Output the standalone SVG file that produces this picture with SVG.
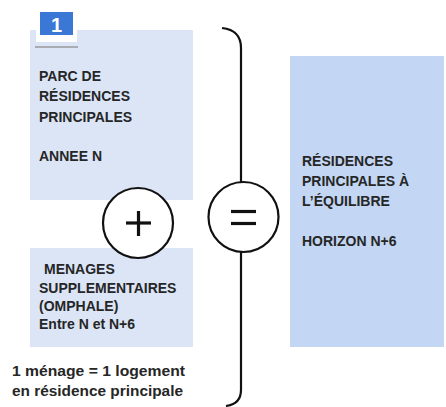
<svg xmlns="http://www.w3.org/2000/svg" width="446" height="407" viewBox="0 0 446 407">
<style>
.t{font-family:"Liberation Sans",Arial,sans-serif;font-weight:bold;font-size:14px;fill:#262626}
.lb{fill:#dbe5f6}
.rb{fill:#c3d6f3}
.ln{fill:none;stroke:#111;stroke-width:2.2}
.op{fill:#fff;stroke:#111;stroke-width:2.2}
.sym{stroke:#111;stroke-width:3.2;stroke-linecap:butt}
</style>
<rect width="446" height="407" fill="#fff"/>
<g id="box-parc">
<rect class="lb" x="30" y="30" width="163" height="170"/>
<rect x="36" y="9" width="41" height="33" fill="#fff"/>
<rect x="40" y="12" width="33" height="23" fill="#3b78d6"/>
<text x="56.5" y="32" text-anchor="middle" style="font-family:'Liberation Sans',Arial,sans-serif;font-weight:bold;font-size:20px;fill:#fff">1</text>
<line x1="35" y1="47" x2="78" y2="47" stroke="#999" stroke-width="1.5"/>
<text class="t" x="39" y="81">PARC DE</text>
<text class="t" x="39" y="101">RÉSIDENCES</text>
<text class="t" x="39" y="122">PRINCIPALES</text>
<text class="t" x="39" y="161">ANNEE N</text>
</g>
<g id="box-menages">
<rect class="lb" x="30" y="248" width="163" height="99"/>
<text class="t" x="44" y="274">MENAGES</text>
<text class="t" x="39" y="293">SUPPLEMENTAIRES</text>
<text class="t" x="39" y="311">(OMPHALE)</text>
<text class="t" x="39" y="329">Entre N et N+6</text>
</g>
<g id="note">
<text class="t" x="12" y="376" textLength="173" lengthAdjust="spacingAndGlyphs">1 ménage = 1 logement</text>
<text class="t" x="12" y="396" textLength="171" lengthAdjust="spacingAndGlyphs">en résidence principale</text>
</g>
<g id="box-result">
<rect class="rb" x="290" y="56" width="154" height="291"/>
<text class="t" x="302" y="166">RÉSIDENCES</text>
<text class="t" x="302" y="186">PRINCIPALES À</text>
<text class="t" x="302" y="206">L’ÉQUILIBRE</text>
<text class="t" x="302" y="246">HORIZON N+6</text>
</g>
<g id="connectors">
<path class="ln" d="M222,28 Q241,30 241,48 V182"/>
<path class="ln" d="M241,252 V390 Q241,404 226,406"/>
</g>
<g id="plus">
<circle class="op" cx="138" cy="223" r="35"/>
<line class="sym" x1="126" y1="223" x2="151" y2="223"/>
<line class="sym" x1="138.5" y1="211" x2="138.5" y2="236"/>
</g>
<g id="equals">
<circle class="op" cx="243.5" cy="217" r="35"/>
<line class="sym" x1="231" y1="211.5" x2="256" y2="211.5"/>
<line class="sym" x1="231" y1="223.5" x2="256" y2="223.5"/>
</g>
</svg>
